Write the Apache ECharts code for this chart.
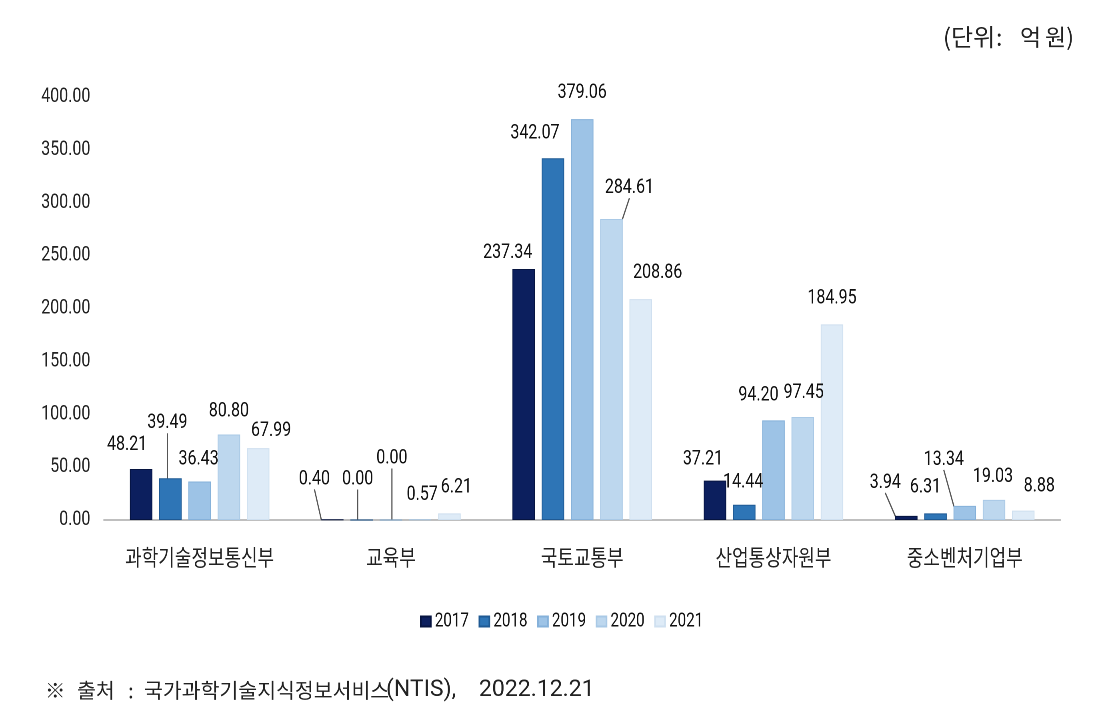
<!DOCTYPE html>
<html><head><meta charset="utf-8">
<script src="https://cdn.jsdelivr.net/npm/echarts@6/dist/echarts.min.js"></script>
<style>
html,body{margin:0;padding:0;background:#fff;overflow:hidden}
#wrap{width:1094px;height:714px;overflow:hidden;position:relative}
#c{width:1367.5px;height:714px;transform:scaleX(0.8);transform-origin:0 0;position:absolute;left:0;top:0}
</style>
</head><body><div id="wrap"><div id="c"></div></div>
<script>
const categories = ['과학기술정보통신부', '교육부', '국토교통부', '산업통상자원부', '중소벤처기업부'];
const years = ['2017', '2018', '2019', '2020', '2021'];
const v2017 = [48.21, 0.40, 237.34, 37.21, 3.94];
const v2018 = [39.49, 0.00, 342.07, 14.44, 6.31];
const v2019 = [36.43, 0.00, 379.06, 94.20, 13.34];
const v2020 = [80.80, 0.57, 284.61, 97.45, 19.03];
const v2021 = [67.99, 6.21, 208.86, 184.95, 8.88];
const yTicks = { min: 0, max: 400, interval: 50 };
const unitParts = ['(단위', ':', '억', '원)'];
const sourceParts = ['※', '출처', ':', '국가과학기술지식정보서비스', '(NTIS),', '2022.12.21'];

// horizontal squash factor of the original picture
const K = 1.25;
const seriesValues = [v2017, v2018, v2019, v2020, v2021];
const colors = ['#0c1f5e', '#2e75b6', '#9dc3e6', '#bdd7ee', '#deebf7'];
const borders = ['#061440', '#1f5a94', '#85b1da', '#a9c9e6', '#cfe0f0'];
// label centre relative to bar top-centre [dx, dy] in screen px (layout only)
const shifts = [
  [[-14,-24],[-18,-40],[-16,-16],[-12,-21],[-21,-33]],
  [[-3,-55],[-4,-40],[-18,-25],[-1,-22],[-10,-26]],
  [[-1,-22],[1,-61],[0,-26],[-15,-25],[-21,-46]],
  [[0,-23],[2,-24],[18,-31],[1,-24],[-1,-23]],
  [[13,-17],[7,-26],[17,-26],[0,-26],[16,-24]]
];
const leaders = [[0,1],[1,0],[1,1],[2,1],[3,2],[0,4],[2,4]];
const isLeader = (s,c) => leaders.some(p => p[0]===s && p[1]===c);

const numFont = "Roboto, sans-serif";
const krFont = "'Noto Sans CJK KR', sans-serif";
const lineStyle = { color: '#555', width: 1.5 };

const series = seriesValues.map((vals, s) => ({
  name: years[s],
  type: 'bar',
  barWidth: 22.5 * K,
  barGap: '30%',
  itemStyle: { color: colors[s], borderColor: borders[s], borderWidth: 1 },
  label: {
    show: true, position: 'top', distance: 5,
    formatter: p => p.value.toFixed(2),
    fontFamily: numFont, fontSize: 20, color: '#111'
  },
  labelLine: { show: false, lineStyle: lineStyle },
  labelLayout: p => {
    const r = p.rect;
    const sh = shifts[s][p.dataIndex];
    return { x: r.x + r.width / 2 + sh[0] * K, y: r.y + sh[1], align: 'center', verticalAlign: 'middle' };
  },
  data: vals.map((v, c) => isLeader(s, c)
    ? { value: v, labelLine: { show: true, lineStyle: lineStyle } }
    : v)
}));

function txt(str, sx, cy, font) {
  return { type: 'text', x: sx * K, y: cy, scaleX: K, silent: true,
    style: { text: str, x: 0, y: 0, font: font, fill: '#222', textVerticalAlign: 'middle' } };
}
const krF = (n) => n + "px 'Noto Sans CJK KR'";
const rbF = (n) => n + "px Roboto";

const chart = echarts.init(document.getElementById('c'), null, { renderer: 'canvas', devicePixelRatio: 2 });
chart.setOption({
  animation: false,
  backgroundColor: '#fff',
  grid: { left: 104 * K, right: 34 * K, top: 97, bottom: 194 },
  legend: {
    data: years, top: 607, left: 416 * K,
    icon: 'rect', itemWidth: 10 * K, itemHeight: 10, itemGap: 12,
    textStyle: { fontFamily: numFont, fontSize: 19, color: '#111' }
  },
  xAxis: {
    type: 'category', data: categories,
    axisLine: { lineStyle: { color: '#bfbfbf', width: 2 } },
    axisTick: { show: false },
    axisLabel: { interval: 0, fontFamily: krFont, fontSize: 22.5, color: '#222', margin: 26 }
  },
  yAxis: {
    type: 'value', min: yTicks.min, max: yTicks.max, interval: yTicks.interval,
    axisLine: { show: false }, axisTick: { show: false }, splitLine: { show: false },
    axisLabel: { formatter: v => v.toFixed(2), fontFamily: numFont, fontSize: 20, color: '#222', margin: 17 }
  },
  graphic: [
    txt(unitParts[0], 943, 37, krF(24)),
    txt(unitParts[1], 996, 37, krF(23)),
    txt(unitParts[2], 1020, 37, krF(23)),
    txt(unitParts[3], 1045, 37, krF(23)),
    txt(sourceParts[0], 45, 690, krF(20.5)),
    txt(sourceParts[1], 77, 690, krF(20.5)),
    txt(sourceParts[2], 128, 690, krF(20.5)),
    txt(sourceParts[3], 144, 690, krF(20.5)),
    txt(sourceParts[4], 386, 690, rbF(23)),
    txt(sourceParts[5], 479, 690, rbF(23))
  ],
  series: series
});
</script></body></html>
